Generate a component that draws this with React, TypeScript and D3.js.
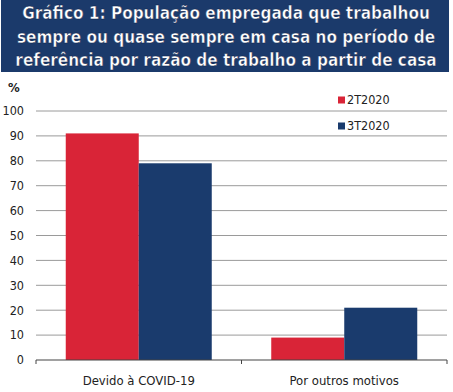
import React from 'react';
import * as d3 from 'd3';

const categories = ['Devido à COVID-19', 'Por outros motivos'];
const seriesNames = ['2T2020', '3T2020'];
const values2T = [91, 9];
const values3T = [79, 21];
const yTicks = [0, 10, 20, 30, 40, 50, 60, 70, 80, 90, 100];
const titleLines = [
  'Gráfico 1: População empregada que trabalhou',
  'sempre ou quase sempre em casa no período de',
  'referência por razão de trabalho a partir de casa',
];

const colors = ['#d92437', '#1a3b6d'];
const font = '"DejaVu Sans Condensed", "DejaVu Sans", sans-serif';

const App: React.FC = () => {
  const width = 453;
  const height = 392;
  const left = 36;
  const right = 447;
  const top = 111;
  const bottom = 360;

  const x0 = d3.scaleBand<string>().domain(categories).range([left, right]).paddingInner(0).paddingOuter(0);
  const x1 = d3.scaleBand<string>().domain(seriesNames).range([0, x0.bandwidth()]).paddingOuter(0.4075).paddingInner(0);
  const y = d3.scaleLinear().domain([0, 100]).range([bottom, top]);

  const series = [values2T, values3T];

  return (
    <svg width={width} height={height} style={{ position: 'absolute', left: 0, top: 0, background: '#fff' }}>
      <rect x={1} y={0} width={448} height={72} fill="#1b3a6b" />
      {titleLines.map((t, i) => (
        <text
          key={i}
          x={226}
          y={19 + i * 23.5}
          textAnchor="middle"
          fill="#fff"
          fontFamily={font}
          fontWeight="bold"
          fontSize={17}
          stroke="#0d2048"
          strokeWidth={0.4}
        >
          {t}
        </text>
      ))}

      <text x={8} y={92} fontFamily={font} fontSize={13} fontWeight="bold" fill="#222">%</text>

      {yTicks.map(t => (
        <g key={t}>
          {t > 0 && <line x1={left} x2={right} y1={y(t)} y2={y(t)} stroke="#9a9a9a" strokeWidth={1} />}
          <text x={24} y={y(t)} dy="0.35em" textAnchor="end" fontFamily={font} fontSize={12.5} fill="#222">{t}</text>
        </g>
      ))}

      {categories.map((c, ci) => (
        <g key={c} transform={`translate(${x0(c)},0)`}>
          {seriesNames.map((s, si) => (
            <rect
              key={s}
              x={x1(s)}
              y={y(series[si][ci])}
              width={x1.bandwidth()}
              height={y(0) - y(series[si][ci])}
              fill={colors[si]}
            />
          ))}
          <text
            x={x0.bandwidth() / 2}
            y={385}
            textAnchor="middle"
            fontFamily={font}
            fontSize={13}
            fill="#222"
          >
            {c}
          </text>
        </g>
      ))}

      <line x1={left} x2={right} y1={bottom} y2={bottom} stroke="#444" strokeWidth={1.2} />
      {[left, left + x0.bandwidth(), right].map((px, i) => (
        <line key={i} x1={px} x2={px} y1={bottom} y2={bottom + 4} stroke="#444" strokeWidth={1} />
      ))}

      {seriesNames.map((s, i) => (
        <g key={s} transform={`translate(338,${100 + i * 26})`}>
          <rect x={0} y={-3.5} width={7} height={7} fill={colors[i]} />
          <text x={9} y={0} dy="0.35em" fontFamily={font} fontSize={12.5} fill="#222">{s}</text>
        </g>
      ))}
    </svg>
  );
};

export default App;
